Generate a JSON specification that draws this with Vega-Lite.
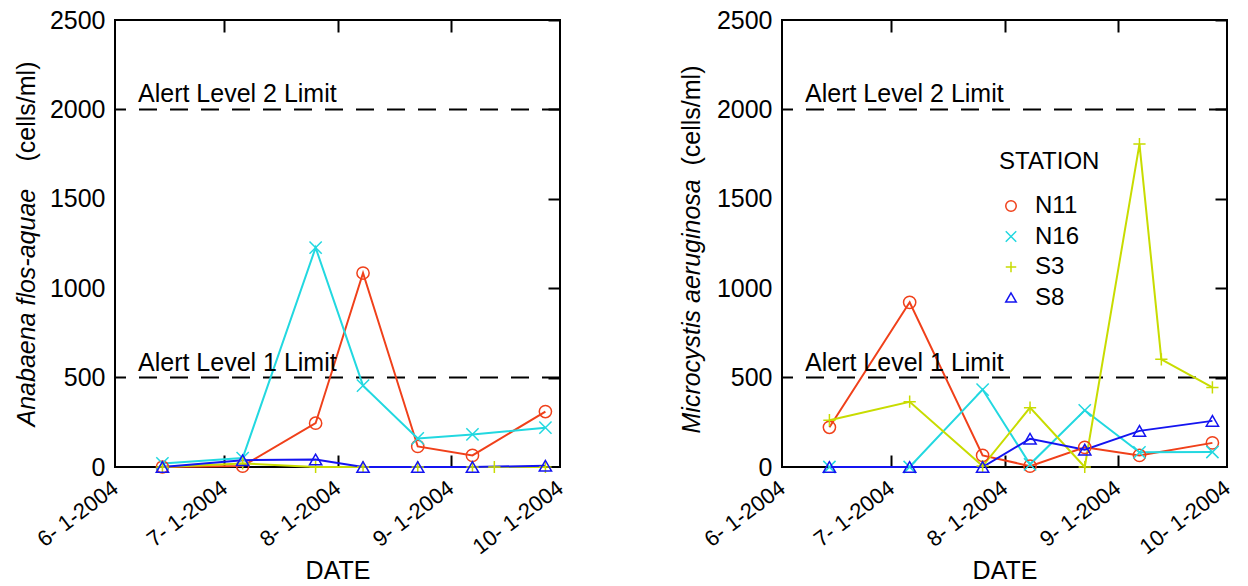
{
  "$schema": "https://vega.github.io/schema/vega-lite/v6.json",
  "background": "white",
  "padding": {"left": 13, "top": 7, "right": 5, "bottom": 0},
  "bounds": "flush",
  "spacing": 222,
  "config": {
    "font": "Liberation Sans",
    "view": {"stroke": "black", "strokeWidth": 2},
    "axis": {"grid": false, "domain": false, "labelFont": "Liberation Sans", "titleFont": "Liberation Sans", "labelColor": "black", "titleColor": "black", "tickColor": "black", "tickWidth": 2, "titleFontWeight": "normal"},
    "legend": {"labelFont": "Liberation Sans", "titleFont": "Liberation Sans", "labelColor": "black", "titleColor": "black"}
  },
  "datasets": {
    "anabaena": [
      {"station": "N11", "date": "2004-06-14", "value": 0},
      {"station": "N11", "date": "2004-07-06", "value": 5},
      {"station": "N11", "date": "2004-07-26", "value": 245},
      {"station": "N11", "date": "2004-08-08", "value": 1085},
      {"station": "N11", "date": "2004-08-23", "value": 115},
      {"station": "N11", "date": "2004-09-07", "value": 65},
      {"station": "N11", "date": "2004-09-27", "value": 310},
      {"station": "N16", "date": "2004-06-14", "value": 20},
      {"station": "N16", "date": "2004-07-06", "value": 50},
      {"station": "N16", "date": "2004-07-26", "value": 1227},
      {"station": "N16", "date": "2004-08-08", "value": 455},
      {"station": "N16", "date": "2004-08-23", "value": 160},
      {"station": "N16", "date": "2004-09-07", "value": 182},
      {"station": "N16", "date": "2004-09-27", "value": 220},
      {"station": "S3", "date": "2004-06-14", "value": 0},
      {"station": "S3", "date": "2004-07-06", "value": 20},
      {"station": "S3", "date": "2004-07-26", "value": 0},
      {"station": "S3", "date": "2004-08-08", "value": 0},
      {"station": "S3", "date": "2004-08-23", "value": 0},
      {"station": "S3", "date": "2004-09-07", "value": 0},
      {"station": "S3", "date": "2004-09-13", "value": 0},
      {"station": "S3", "date": "2004-09-27", "value": 0},
      {"station": "S8", "date": "2004-06-14", "value": 0},
      {"station": "S8", "date": "2004-07-06", "value": 38},
      {"station": "S8", "date": "2004-07-26", "value": 42},
      {"station": "S8", "date": "2004-08-08", "value": 0},
      {"station": "S8", "date": "2004-08-23", "value": 0},
      {"station": "S8", "date": "2004-09-07", "value": 0},
      {"station": "S8", "date": "2004-09-27", "value": 7}
    ],
    "microcystis": [
      {"station": "N11", "date": "2004-06-14", "value": 222},
      {"station": "N11", "date": "2004-07-06", "value": 921},
      {"station": "N11", "date": "2004-07-26", "value": 65},
      {"station": "N11", "date": "2004-08-08", "value": 5},
      {"station": "N11", "date": "2004-08-23", "value": 110},
      {"station": "N11", "date": "2004-09-07", "value": 65},
      {"station": "N11", "date": "2004-09-27", "value": 135},
      {"station": "N16", "date": "2004-06-14", "value": 0},
      {"station": "N16", "date": "2004-07-06", "value": 0},
      {"station": "N16", "date": "2004-07-26", "value": 433},
      {"station": "N16", "date": "2004-08-08", "value": 15},
      {"station": "N16", "date": "2004-08-23", "value": 317},
      {"station": "N16", "date": "2004-09-07", "value": 82},
      {"station": "N16", "date": "2004-09-27", "value": 84},
      {"station": "S3", "date": "2004-06-14", "value": 262},
      {"station": "S3", "date": "2004-07-06", "value": 365},
      {"station": "S3", "date": "2004-07-26", "value": 5},
      {"station": "S3", "date": "2004-08-08", "value": 332},
      {"station": "S3", "date": "2004-08-23", "value": 0},
      {"station": "S3", "date": "2004-09-07", "value": 1806},
      {"station": "S3", "date": "2004-09-13", "value": 602},
      {"station": "S3", "date": "2004-09-27", "value": 445},
      {"station": "S8", "date": "2004-06-14", "value": 0},
      {"station": "S8", "date": "2004-07-06", "value": 0},
      {"station": "S8", "date": "2004-07-26", "value": 0},
      {"station": "S8", "date": "2004-08-08", "value": 158},
      {"station": "S8", "date": "2004-08-23", "value": 97},
      {"station": "S8", "date": "2004-09-07", "value": 202},
      {"station": "S8", "date": "2004-09-27", "value": 258}
    ],
    "alerts": [
      {"date": "2004-06-01", "value": 2000, "label": "Alert Level 2 Limit"},
      {"date": "2004-06-01", "value": 500, "label": "Alert Level 1 Limit"}
    ]
  },
  "hconcat": [
    {
      "width": 445,
      "height": 447,
      "layer": [
        {
          "data": {"name": "alerts"},
          "mark": {"type": "rule", "strokeDash": [18, 13], "strokeWidth": 2, "color": "black"},
          "encoding": {"y": {"field": "value", "type": "quantitative", "scale": {"domain": [0, 2500], "nice": false}, "axis": null}}
        },
        {
          "data": {"name": "anabaena"},
          "mark": {"type": "line", "strokeWidth": 2},
          "encoding": {
            "x": {"field": "date", "type": "temporal", "scale": {"type": "utc", "domain": [{"year": 2004, "month": 6, "date": 1, "utc": true}, {"year": 2004, "month": 10, "date": 1, "utc": true}], "nice": false},
              "axis": {"orient": "bottom", "title": "DATE", "values": [{"year": 2004, "month": 6, "date": 1, "utc": true}, {"year": 2004, "month": 7, "date": 1, "utc": true}, {"year": 2004, "month": 8, "date": 1, "utc": true}, {"year": 2004, "month": 9, "date": 1, "utc": true}, {"year": 2004, "month": 10, "date": 1, "utc": true}], "format": "%-m- %-d-%Y", "labelAngle": -37, "labelAlign": "right", "labelBaseline": "middle", "labelFontSize": 22, "labelPadding": 18, "ticks": false, "labelFlush": false, "labelOverlap": false, "titleFontSize": 25, "titleY": 111, "titleBaseline": "alphabetic"}},
            "y": {"field": "value", "type": "quantitative", "scale": {"domain": [0, 2500], "nice": false},
              "axis": {"orient": "left", "values": [0, 500, 1000, 1500, 2000, 2500], "format": "d", "ticks": false, "labelFontSize": 25, "labelPadding": 10, "title": "Anabaena flos-aquae", "titleFontStyle": "italic", "titleFontSize": 25, "titleAngle": -90, "titleAlign": "left", "titleBaseline": "alphabetic", "titleX": -80.5, "titleY": 406}},
            "color": {"field": "station", "type": "nominal", "scale": {"domain": ["N11", "N16", "S3", "S8"], "range": ["#f0401a", "#22d8e0", "#c8dc00", "#1414f0"]}, "legend": null}
          }
        },
        {
          "data": {"name": "anabaena"},
          "mark": {"type": "point", "filled": false, "strokeWidth": 1.5, "size": 150, "opacity": 1},
          "encoding": {
            "x": {"field": "date", "type": "temporal", "axis": {"orient": "top", "labels": false, "title": null, "values": [{"year": 2004, "month": 7, "date": 1, "utc": true}, {"year": 2004, "month": 8, "date": 1, "utc": true}, {"year": 2004, "month": 9, "date": 1, "utc": true}], "tickSize": -12}},
            "y": {"field": "value", "type": "quantitative", "axis": {"orient": "right", "labels": false, "title": null, "values": [500, 1000, 1500, 2000, 2500], "tickSize": -12}},
            "color": {"field": "station", "type": "nominal", "scale": {"domain": ["N11", "N16", "S3", "S8"], "range": ["#f0401a", "#22d8e0", "#c8dc00", "#1414f0"]}, "legend": null},
            "shape": {"field": "station", "type": "nominal", "scale": {"domain": ["N11", "N16", "S3", "S8"], "range": ["circle", "M-1,-1L1,1M-1,1L1,-1", "M-1,0L1,0M0,-1L0,1", "triangle-up"]}, "legend": null}
          }
        },
        {
          "data": {"name": "alerts"},
          "mark": {"type": "text", "align": "left", "baseline": "alphabetic", "dx": 23, "dy": -7, "fontSize": 25, "font": "Liberation Sans", "color": "black"},
          "encoding": {
            "x": {"field": "date", "type": "temporal", "axis": {"orient": "bottom", "labels": false, "title": null, "values": [{"year": 2004, "month": 7, "date": 1, "utc": true}, {"year": 2004, "month": 8, "date": 1, "utc": true}, {"year": 2004, "month": 9, "date": 1, "utc": true}], "tickSize": -12}},
            "y": {"field": "value", "type": "quantitative", "axis": {"orient": "left", "labels": false, "ticks": false, "title": "(cells/ml)", "titleFontSize": 25, "titleAngle": -90, "titleAlign": "left", "titleBaseline": "alphabetic", "titleX": -80.5, "titleY": 141}},
            "text": {"field": "label"}
          }
        }
      ],
      "resolve": {"axis": {"x": "independent", "y": "independent"}, "scale": {"color": "independent", "shape": "independent"}, "legend": {"color": "independent", "shape": "independent"}}
    },
    {
      "width": 445,
      "height": 447,
      "layer": [
        {
          "data": {"name": "alerts"},
          "mark": {"type": "rule", "strokeDash": [18, 13], "strokeWidth": 2, "color": "black"},
          "encoding": {"y": {"field": "value", "type": "quantitative", "scale": {"domain": [0, 2500], "nice": false}, "axis": null}}
        },
        {
          "data": {"name": "microcystis"},
          "mark": {"type": "line", "strokeWidth": 2},
          "encoding": {
            "x": {"field": "date", "type": "temporal", "scale": {"type": "utc", "domain": [{"year": 2004, "month": 6, "date": 1, "utc": true}, {"year": 2004, "month": 10, "date": 1, "utc": true}], "nice": false},
              "axis": {"orient": "bottom", "title": "DATE", "values": [{"year": 2004, "month": 6, "date": 1, "utc": true}, {"year": 2004, "month": 7, "date": 1, "utc": true}, {"year": 2004, "month": 8, "date": 1, "utc": true}, {"year": 2004, "month": 9, "date": 1, "utc": true}, {"year": 2004, "month": 10, "date": 1, "utc": true}], "format": "%-m- %-d-%Y", "labelAngle": -37, "labelAlign": "right", "labelBaseline": "middle", "labelFontSize": 22, "labelPadding": 18, "ticks": false, "labelFlush": false, "labelOverlap": false, "titleFontSize": 25, "titleY": 111, "titleBaseline": "alphabetic"}},
            "y": {"field": "value", "type": "quantitative", "scale": {"domain": [0, 2500], "nice": false},
              "axis": {"orient": "left", "values": [0, 500, 1000, 1500, 2000, 2500], "format": "d", "ticks": false, "labelFontSize": 25, "labelPadding": 10, "title": "Microcystis aeruginosa", "titleFontStyle": "italic", "titleFontSize": 25, "titleAngle": -90, "titleAlign": "left", "titleBaseline": "alphabetic", "titleX": -82.7, "titleY": 413}},
            "color": {"field": "station", "type": "nominal", "scale": {"domain": ["N11", "N16", "S3", "S8"], "range": ["#f0401a", "#22d8e0", "#c8dc00", "#1414f0"]}, "legend": null}
          }
        },
        {
          "data": {"name": "microcystis"},
          "mark": {"type": "point", "filled": false, "strokeWidth": 1.5, "size": 150, "opacity": 1},
          "encoding": {
            "x": {"field": "date", "type": "temporal", "axis": {"orient": "top", "labels": false, "title": null, "values": [{"year": 2004, "month": 7, "date": 1, "utc": true}, {"year": 2004, "month": 8, "date": 1, "utc": true}, {"year": 2004, "month": 9, "date": 1, "utc": true}], "tickSize": -12}},
            "y": {"field": "value", "type": "quantitative", "axis": {"orient": "right", "labels": false, "title": null, "values": [500, 1000, 1500, 2000, 2500], "tickSize": -12}},
            "color": {"field": "station", "type": "nominal", "scale": {"domain": ["N11", "N16", "S3", "S8"], "range": ["#f0401a", "#22d8e0", "#c8dc00", "#1414f0"]}, "legend": {"orient": "none", "legendX": 217, "legendY": 130, "title": "STATION", "titleFontSize": 24, "titleFontWeight": "normal", "labelFontSize": 24, "symbolSize": 110, "symbolStrokeWidth": 1.5, "rowPadding": 6.5, "titlePadding": 20, "labelOffset": 12}},
            "shape": {"field": "station", "type": "nominal", "scale": {"domain": ["N11", "N16", "S3", "S8"], "range": ["circle", "M-1,-1L1,1M-1,1L1,-1", "M-1,0L1,0M0,-1L0,1", "triangle-up"]}, "legend": {"orient": "none", "legendX": 217, "legendY": 130, "title": "STATION", "titleFontSize": 24, "titleFontWeight": "normal", "labelFontSize": 24, "symbolSize": 110, "symbolStrokeWidth": 1.5, "rowPadding": 6.5, "titlePadding": 20, "labelOffset": 12}}
          }
        },
        {
          "data": {"name": "alerts"},
          "mark": {"type": "text", "align": "left", "baseline": "alphabetic", "dx": 23, "dy": -7, "fontSize": 25, "font": "Liberation Sans", "color": "black"},
          "encoding": {
            "x": {"field": "date", "type": "temporal", "axis": {"orient": "bottom", "labels": false, "title": null, "values": [{"year": 2004, "month": 7, "date": 1, "utc": true}, {"year": 2004, "month": 8, "date": 1, "utc": true}, {"year": 2004, "month": 9, "date": 1, "utc": true}], "tickSize": -12}},
            "y": {"field": "value", "type": "quantitative", "axis": {"orient": "left", "labels": false, "ticks": false, "title": "(cells/ml)", "titleFontSize": 25, "titleAngle": -90, "titleAlign": "left", "titleBaseline": "alphabetic", "titleX": -82.7, "titleY": 145}},
            "text": {"field": "label"}
          }
        }
      ],
      "resolve": {"axis": {"x": "independent", "y": "independent"}, "scale": {"color": "independent", "shape": "independent"}, "legend": {"color": "independent", "shape": "independent"}}
    }
  ],
  "resolve": {"scale": {"color": "independent", "shape": "independent"}, "legend": {"color": "independent", "shape": "independent"}}
}
